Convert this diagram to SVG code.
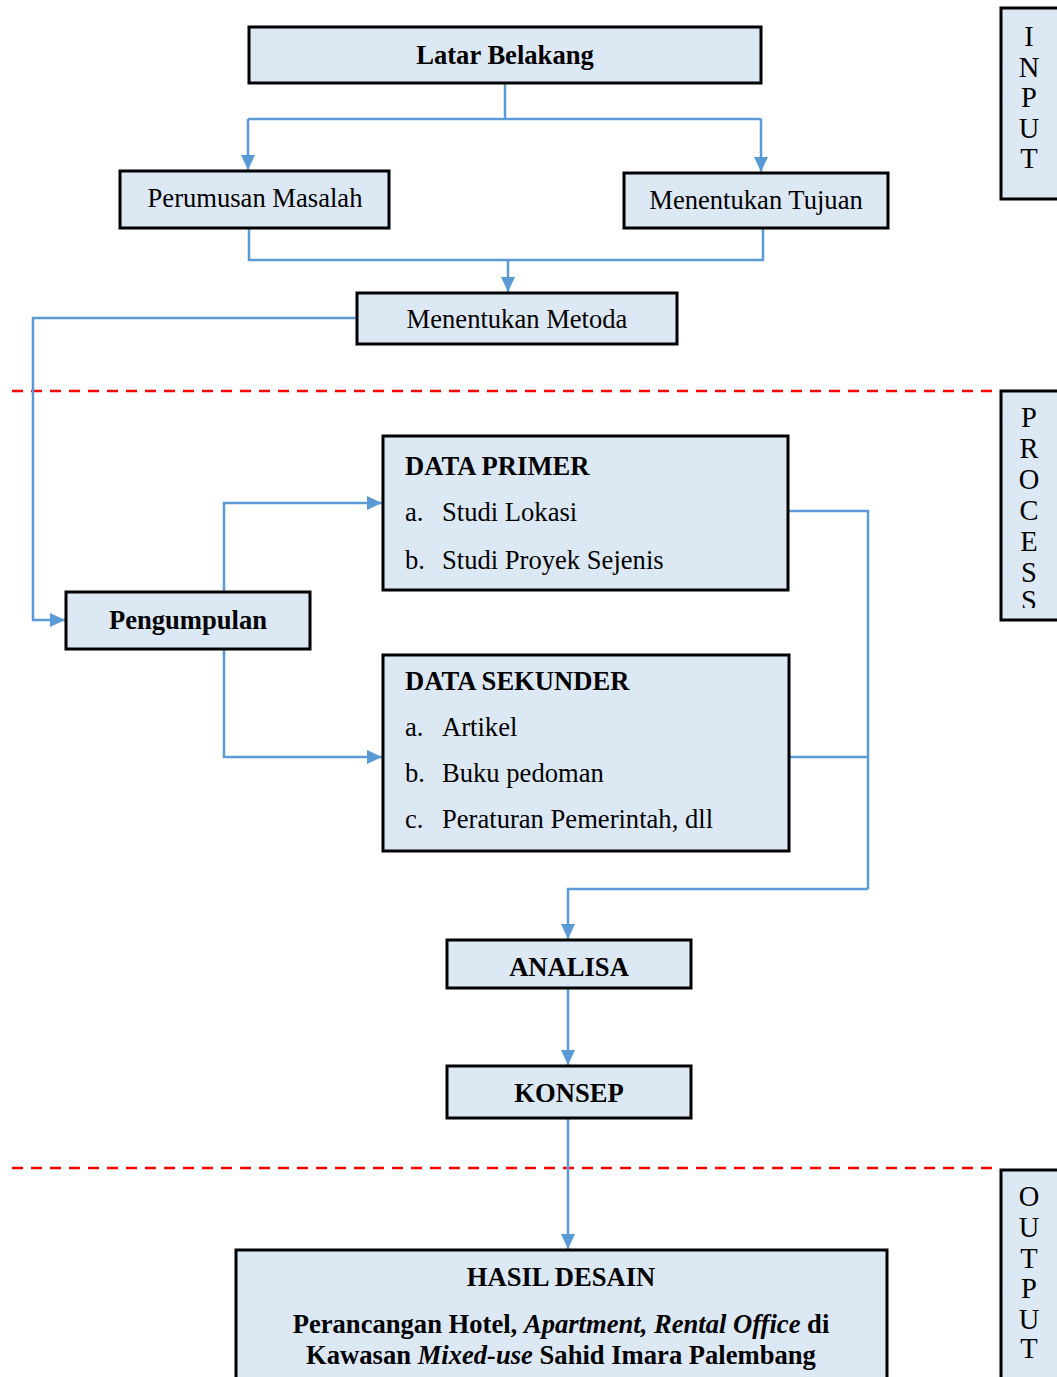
<svg xmlns="http://www.w3.org/2000/svg" width="1057" height="1377" viewBox="0 0 1057 1377">
<defs>
<marker id="ah" markerWidth="15" markerHeight="14" refX="15" refY="7" orient="auto" markerUnits="userSpaceOnUse" viewBox="0 0 15 14">
<path d="M0,0 L15,7 L0,14 z" fill="#5b9bd5"/>
</marker>
<style>
.box{fill:#dde8f5;stroke:#000;stroke-width:3}
.t{font-family:"Liberation Serif","Times New Roman",serif;font-size:26.6px;fill:#000}
.b{font-weight:bold}
.c{text-anchor:middle}
.v{font-family:"Liberation Serif","Times New Roman",serif;font-size:28.5px;fill:#000;text-anchor:middle}
.con{fill:none;stroke:#5b9bd5;stroke-width:2.5}
.dash{stroke:#ff0000;stroke-width:2.5;stroke-dasharray:11 8;fill:none}
</style>
</defs>
<rect width="1057" height="1377" fill="#fff"/>
<g id="separators">
<line class="dash" x1="12" y1="391" x2="1000" y2="391"/>
<line class="dash" x1="12" y1="1168" x2="1000" y2="1168"/>
</g>
<g id="connectors">
<polyline class="con" points="505,83 505,119"/>
<polyline class="con" points="248,119 761,119"/>
<polyline class="con" points="248,119 248,170" marker-end="url(#ah)"/>
<polyline class="con" points="761,119 761,172" marker-end="url(#ah)"/>
<polyline class="con" points="249,228 249,260 763,260 763,228"/>
<polyline class="con" points="508,260 508,292" marker-end="url(#ah)"/>
<polyline class="con" points="357,318 33,318 33,620 65,620" marker-end="url(#ah)"/>
<polyline class="con" points="224,592 224,503 382,503" marker-end="url(#ah)"/>
<polyline class="con" points="224,649 224,757 382,757" marker-end="url(#ah)"/>
<polyline class="con" points="789,511 868,511 868,889"/>
<polyline class="con" points="789,757 868,757"/>
<polyline class="con" points="868,889 568,889 568,939" marker-end="url(#ah)"/>
<polyline class="con" points="568,988 568,1065" marker-end="url(#ah)"/>
<polyline class="con" points="568,1118 568,1249" marker-end="url(#ah)"/>
</g>
<g id="latar">
<rect class="box" x="249" y="27" width="512" height="56"/>
<text class="t b c" x="505" y="64">Latar Belakang</text>
</g>
<g id="perumusan">
<rect class="box" x="120" y="171" width="269" height="57"/>
<text class="t c" x="255" y="207">Perumusan Masalah</text>
</g>
<g id="tujuan">
<rect class="box" x="624" y="173" width="264" height="55"/>
<text class="t c" x="756" y="209">Menentukan Tujuan</text>
</g>
<g id="metoda">
<rect class="box" x="357" y="293" width="320" height="51"/>
<text class="t c" x="517" y="328">Menentukan Metoda</text>
</g>
<g id="primer">
<rect class="box" x="383" y="436" width="405" height="154"/>
<text class="t b" x="405" y="475">DATA PRIMER</text>
<text class="t" x="405" y="521">a.</text><text class="t" x="442" y="521">Studi Lokasi</text>
<text class="t" x="405" y="569">b.</text><text class="t" x="442" y="569">Studi Proyek Sejenis</text>
</g>
<g id="pengumpulan">
<rect class="box" x="66" y="592" width="244" height="57"/>
<text class="t b c" x="188" y="629">Pengumpulan</text>
</g>
<g id="sekunder">
<rect class="box" x="383" y="655" width="406" height="196"/>
<text class="t b" x="405" y="690">DATA SEKUNDER</text>
<text class="t" x="405" y="736">a.</text><text class="t" x="442" y="736">Artikel</text>
<text class="t" x="405" y="782">b.</text><text class="t" x="442" y="782">Buku pedoman</text>
<text class="t" x="405" y="828">c.</text><text class="t" x="442" y="828">Peraturan Pemerintah, dll</text>
</g>
<g id="analisa">
<rect class="box" x="447" y="940" width="244" height="48"/>
<text class="t b c" x="569" y="976">ANALISA</text>
</g>
<g id="konsep">
<rect class="box" x="447" y="1066" width="244" height="52"/>
<text class="t b c" x="569" y="1102">KONSEP</text>
</g>
<g id="hasil">
<rect class="box" x="236" y="1250" width="651" height="135"/>
<text class="t b c" x="561" y="1286">HASIL DESAIN</text>
<text class="t b c" x="561" y="1333">Perancangan Hotel, <tspan font-style="italic">Apartment, Rental Office</tspan> di</text>
<text class="t b c" x="561" y="1364">Kawasan <tspan font-style="italic">Mixed-use</tspan> Sahid Imara Palembang</text>
</g>
<g id="input">
<rect class="box" x="1001" y="8" width="58" height="191"/>
<text class="v" x="1029" y="46">I</text>
<text class="v" x="1029" y="77">N</text>
<text class="v" x="1029" y="107">P</text>
<text class="v" x="1029" y="138">U</text>
<text class="v" x="1029" y="168">T</text>
</g>
<g id="process">
<rect class="box" x="1001" y="391" width="58" height="229"/>
<svg x="1001" y="391" width="56" height="217" overflow="hidden">
<text class="v" x="28" y="36">P</text>
<text class="v" x="28" y="67">R</text>
<text class="v" x="28" y="98">O</text>
<text class="v" x="28" y="129">C</text>
<text class="v" x="28" y="160">E</text>
<text class="v" x="28" y="191">S</text>
<text class="v" x="28" y="219">S</text>
</svg>
</g>
<g id="output">
<rect class="box" x="1001" y="1170" width="58" height="215"/>
<text class="v" x="1029" y="1206">O</text>
<text class="v" x="1029" y="1237">U</text>
<text class="v" x="1029" y="1268">T</text>
<text class="v" x="1029" y="1298">P</text>
<text class="v" x="1029" y="1329">U</text>
<text class="v" x="1029" y="1358">T</text>
</g>
</svg>
